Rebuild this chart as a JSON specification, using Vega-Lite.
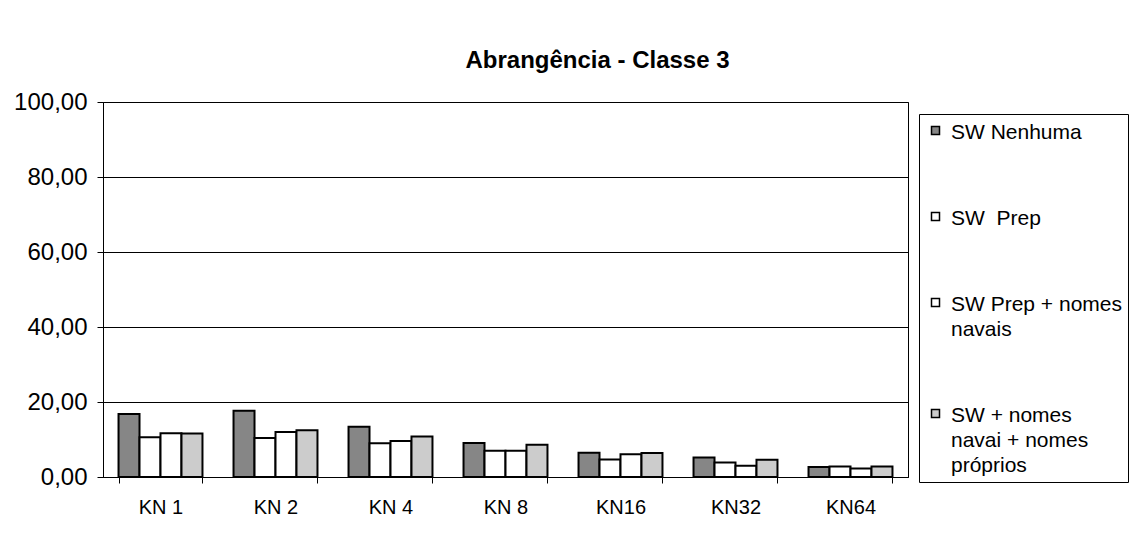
{
  "$schema": "https://vega.github.io/schema/vega-lite/v6.json",
  "autosize": "none",
  "width": 805,
  "height": 375,
  "padding": {"left": 103, "top": 102, "right": 227, "bottom": 67},
  "background": "white",
  "title": {
    "text": "Abrangência - Classe 3",
    "font": "Liberation Sans",
    "fontSize": 24,
    "fontWeight": "bold",
    "color": "black",
    "anchor": "middle",
    "frame": "group",
    "baseline": "alphabetic",
    "offset": -2,
    "dx": 92
  },
  "data": {
    "values": [
      {"k": "KN 1", "s": "SW Nenhuma", "v": 16.8},
      {"k": "KN 1", "s": "SW Prep", "v": 10.6},
      {"k": "KN 1", "s": "SW Prep + nomes navais", "v": 11.7},
      {"k": "KN 1", "s": "SW + nomes navai + nomes próprios", "v": 11.6},
      {"k": "KN 2", "s": "SW Nenhuma", "v": 17.7},
      {"k": "KN 2", "s": "SW Prep", "v": 10.4},
      {"k": "KN 2", "s": "SW Prep + nomes navais", "v": 12.0},
      {"k": "KN 2", "s": "SW + nomes navai + nomes próprios", "v": 12.5},
      {"k": "KN 4", "s": "SW Nenhuma", "v": 13.4},
      {"k": "KN 4", "s": "SW Prep", "v": 9.0},
      {"k": "KN 4", "s": "SW Prep + nomes navais", "v": 9.6},
      {"k": "KN 4", "s": "SW + nomes navai + nomes próprios", "v": 10.8},
      {"k": "KN 8", "s": "SW Nenhuma", "v": 9.1},
      {"k": "KN 8", "s": "SW Prep", "v": 7.0},
      {"k": "KN 8", "s": "SW Prep + nomes navais", "v": 7.0},
      {"k": "KN 8", "s": "SW + nomes navai + nomes próprios", "v": 8.6},
      {"k": "KN16", "s": "SW Nenhuma", "v": 6.5},
      {"k": "KN16", "s": "SW Prep", "v": 4.7},
      {"k": "KN16", "s": "SW Prep + nomes navais", "v": 6.1},
      {"k": "KN16", "s": "SW + nomes navai + nomes próprios", "v": 6.4},
      {"k": "KN32", "s": "SW Nenhuma", "v": 5.2},
      {"k": "KN32", "s": "SW Prep", "v": 3.9},
      {"k": "KN32", "s": "SW Prep + nomes navais", "v": 3.0},
      {"k": "KN32", "s": "SW + nomes navai + nomes próprios", "v": 4.6},
      {"k": "KN64", "s": "SW Nenhuma", "v": 2.7},
      {"k": "KN64", "s": "SW Prep", "v": 2.8},
      {"k": "KN64", "s": "SW Prep + nomes navais", "v": 2.3},
      {"k": "KN64", "s": "SW + nomes navai + nomes próprios", "v": 2.8}
    ]
  },
  "mark": {"type": "bar", "stroke": "black", "strokeWidth": 2},
  "encoding": {
    "x": {
      "field": "k",
      "type": "nominal",
      "sort": null,
      "scale": {"paddingInner": 0.27, "paddingOuter": 0.135},
      "axis": {
        "title": null,
        "labelAngle": 0,
        "labelFont": "Liberation Sans",
        "labelFontSize": 20,
        "labelColor": "black",
        "labelPadding": 14,
        "tickBand": "extent",
        "tickSize": 6,
        "tickColor": "black",
        "domainColor": "black",
        "grid": false
      }
    },
    "xOffset": {
      "field": "s",
      "type": "nominal",
      "sort": null,
      "scale": {"paddingInner": 0, "paddingOuter": 0}
    },
    "y": {
      "field": "v",
      "type": "quantitative",
      "scale": {"domain": [0, 100], "nice": false},
      "axis": {
        "title": null,
        "values": [0, 20, 40, 60, 80, 100],
        "labelExpr": "replace(format(datum.value, '.2f'), '.', ',')",
        "labelFont": "Liberation Sans",
        "labelFontSize": 24,
        "labelColor": "black",
        "labelPadding": 10,
        "tickSize": 6,
        "tickColor": "black",
        "domainColor": "black",
        "gridColor": "black",
        "gridOpacity": 1,
        "gridWidth": 1
      }
    },
    "fill": {
      "field": "s",
      "type": "nominal",
      "sort": null,
      "scale": {
        "domain": ["SW Nenhuma", "SW Prep", "SW Prep + nomes navais", "SW + nomes navai + nomes próprios"],
        "range": ["#868686", "#ffffff", "#ffffff", "#cccccc"]
      },
      "legend": {
        "title": null,
        "orient": "none",
        "legendX": 816,
        "legendY": 12,
        "direction": "vertical",
        "strokeColor": "black",
        "padding": 6,
        "symbolType": "square",
        "symbolSize": 64,
        "symbolStrokeColor": "black",
        "symbolStrokeWidth": 1.5,
        "symbolOpacity": 1,
        "labelFont": "Liberation Sans",
        "labelFontSize": 21,
        "labelColor": "black",
        "labelOffset": 5,
        "labelLimit": 300,
        "labelBaseline": "alphabetic",
        "rowPadding": 63,
        "labelExpr": "datum.value == 'SW Prep' ? 'SW\u00a0 Prep' : datum.value == 'SW Prep + nomes navais' ? ['SW Prep + nomes', 'navais'] : datum.value == 'SW + nomes navai + nomes próprios' ? ['SW + nomes', 'navai + nomes', 'próprios'] : datum.value",
        "encode": {
          "labels": {"update": {"dy": {"value": 8}, "lineHeight": {"value": 25}}}
        }
      }
    }
  },
  "config": {
    "view": {"stroke": "black", "strokeWidth": 1}
  }
}
